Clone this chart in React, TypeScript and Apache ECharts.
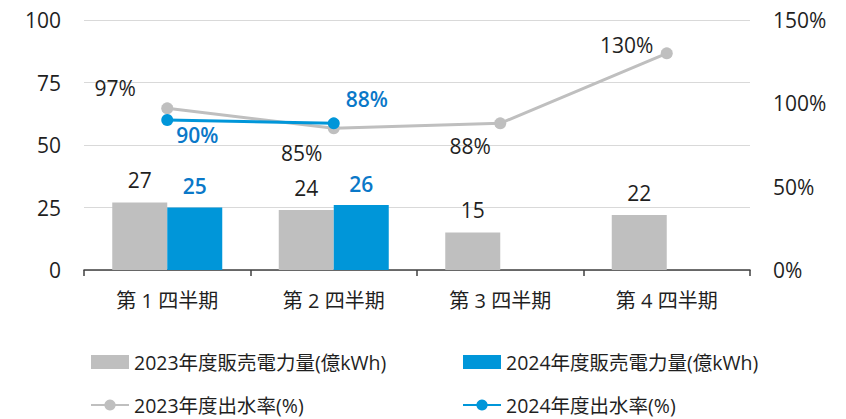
import React, { useEffect, useRef } from "react";
import * as echarts from "echarts";

const categories = ["第 1 四半期", "第 2 四半期", "第 3 四半期", "第 4 四半期"];
const sales2023 = [27, 24, 15, 22];
const sales2024 = [25, 26, null, null];
const rate2023 = [97, 85, 88, 130];
const rate2024 = [90, 88, null, null];
const leftTicks = { min: 0, max: 100, interval: 25 };
const rightTicks = { min: 0, max: 150, interval: 50 };

const names = {
  s23: "2023年度販売電力量(億kWh)",
  s24: "2024年度販売電力量(億kWh)",
  r23: "2023年度出水率(%)",
  r24: "2024年度出水率(%)",
};

const GRAY = "#BFBFBF";
const BLUE = "#0096D9";
const BLUE_TEXT = "#0A78C8";
const TEXT = "#1f1f1f";
const FONT = "'Open Sans', 'Noto Sans CJK JP', sans-serif";

const rate23Offsets: [number, number][] = [[-52, -20], [-32, 25], [-30, 23], [-40, -8]];
const rate24Offsets: [number, number][] = [[30, 15], [33, -24]];

export default function App() {
  const ref = useRef<HTMLDivElement>(null);
  useEffect(() => {
    document.body.style.margin = "0";
    if (!ref.current) return;
    const chart = echarts.init(ref.current, null, { renderer: "svg" });
    const legendText = { fontSize: 19.5, color: TEXT, fontFamily: FONT, lineHeight: 24 };
    chart.setOption({
      animation: false,
      textStyle: { fontFamily: FONT },
      grid: { left: 84, right: 96, top: 20, bottom: 149, containLabel: false },
      legend: [
        {
          orient: "vertical",
          left: 90,
          top: 350,
          padding: 0,
          itemWidth: 38,
          itemHeight: 14,
          itemGap: 19,
          data: [{ name: names.s23, icon: "rect" }, { name: names.r23 }],
          textStyle: legendText,
        },
        {
          orient: "vertical",
          left: 462,
          top: 350,
          padding: 0,
          itemWidth: 38,
          itemHeight: 14,
          itemGap: 19,
          data: [{ name: names.s24, icon: "rect" }, { name: names.r24 }],
          textStyle: legendText,
        },
      ],
      xAxis: {
        type: "category",
        data: categories,
        axisLine: { show: true, lineStyle: { color: "#404040", width: 1.5 } },
        axisTick: { show: true, length: 6, lineStyle: { color: "#404040", width: 1.5 } },
        axisLabel: { fontSize: 20, color: TEXT, margin: 20, fontFamily: FONT },
      },
      yAxis: [
        {
          type: "value",
          ...leftTicks,
          axisLine: { show: false },
          axisTick: { show: false },
          splitLine: { show: true, lineStyle: { color: "#D9D9D9", width: 1 } },
          axisLabel: { fontSize: 21, color: TEXT, margin: 23, fontFamily: FONT },
        },
        {
          type: "value",
          ...rightTicks,
          position: "right",
          axisLine: { show: false },
          axisTick: { show: false },
          splitLine: { show: false },
          axisLabel: { fontSize: 21, color: TEXT, margin: 23, fontFamily: FONT, formatter: "{value}%" },
        },
      ],
      series: [
        {
          name: names.s23,
          type: "bar",
          data: sales2023,
          barWidth: 55,
          barGap: "0%",
          itemStyle: { color: GRAY },
          label: { show: true, position: "top", distance: 12, fontSize: 21, color: TEXT, fontFamily: FONT },
          z: 2,
        },
        {
          name: names.s24,
          type: "bar",
          data: sales2024,
          barWidth: 55,
          barGap: "0%",
          itemStyle: { color: BLUE },
          label: { show: true, position: "top", distance: 11, fontSize: 21, color: BLUE_TEXT, fontWeight: 600, fontFamily: FONT },
          z: 2,
        },
        {
          name: names.r23,
          type: "line",
          yAxisIndex: 1,
          data: rate2023.map((v, i) => ({
            value: v,
            label: { offset: rate23Offsets[i] },
          })),
          symbol: "circle",
          symbolSize: 12,
          lineStyle: { color: GRAY, width: 3 },
          itemStyle: { color: GRAY },
          label: {
            show: true,
            position: "inside",
            formatter: "{c}%",
            fontSize: 21,
            color: TEXT,
            fontFamily: FONT,
          },
          z: 3,
        },
        {
          name: names.r24,
          type: "line",
          yAxisIndex: 1,
          data: rate2024.map((v, i) => ({
            value: v,
            label: { offset: rate24Offsets[i] || [0, 0] },
          })),
          symbol: "circle",
          symbolSize: 12,
          lineStyle: { color: BLUE, width: 3 },
          itemStyle: { color: BLUE },
          label: {
            show: true,
            position: "inside",
            formatter: "{c}%",
            fontSize: 21,
            color: BLUE_TEXT,
            fontWeight: 600,
            fontFamily: FONT,
          },
          z: 4,
        },
      ],
    });
    return () => chart.dispose();
  }, []);
  return <div ref={ref} style={{ width: 846, height: 419 }} />;
}
